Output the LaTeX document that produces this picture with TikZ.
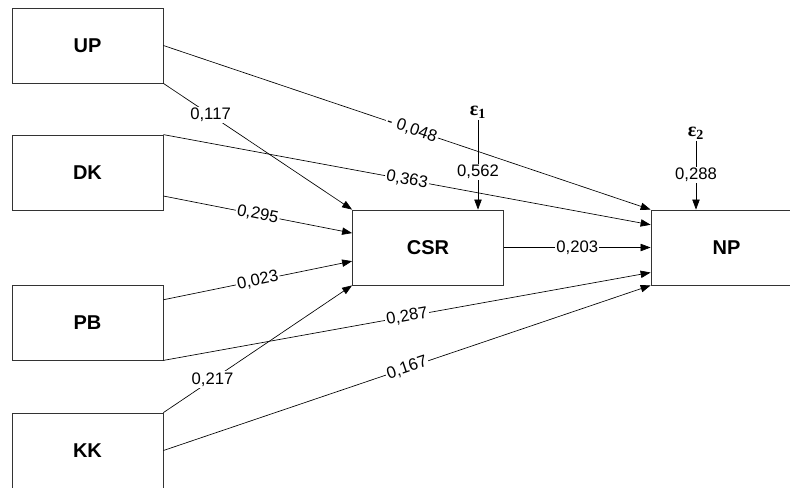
\documentclass[tikz,border=0pt]{standalone}
\usepackage{fontspec}
\setmainfont{Liberation Sans}
\newfontfamily\epsfont{Liberation Serif}
\usetikzlibrary{arrows.meta,calc,positioning}

\begin{document}
\begin{tikzpicture}[
        x=0.75pt, y=-0.75pt,
        node distance=223.9pt,
        box/.style={rectangle, minimum width=113.25pt, minimum height=56.25pt, draw=black!80, line width=0.6pt, font=\fontsize{15}{17}\selectfont\bfseries},
        arrow/.style={line width=0.5pt, -{Triangle[length=7.5pt,width=5.5pt]}},
        coef/.style={fill=white, inner sep=1pt, font=\fontsize{12.5}{14}\selectfont},
        errterm/.style={inner sep=1pt, font=\epsfont\fontsize{15}{16}\selectfont\bfseries}
    ]
        \useasboundingbox (0,0) rectangle (790,487);

        % Exogenous
        \node (up) [box] at (87.5,45.5) {UP};
        \node (dk) [box] at (87.5,172.5) {DK};
        \node (pb) [box] at (87.5,322.5) {PB};
        \node (kk) [box] at (87.5,450.5) {KK};

        % Endogenous
        \node (csr) [box] at (428,247.5) {CSR};
        \node (np) [box, right of=csr] {NP};

        % Errors
        \node (eps1) [errterm] at (478,112) {ε\textsubscript{1}};
        \node (eps2) [errterm] at (696,133) {ε\textsubscript{2}};

        % Paths to CSR
        \draw[arrow] (up.south east) -- node[coef, pos=0.25] {0,117} (csr.north west);
        \draw[arrow] ($(dk.north east)!0.81!(dk.south east)$) -- node[coef, sloped] {0,295} ($(csr.north west)!0.31!(csr.south west)$);
        \draw[arrow] ($(pb.north east)!0.2!(pb.south east)$) -- node[coef, sloped] {0,023} ($(csr.north west)!0.68!(csr.south west)$);
        \draw[arrow] (kk.north east) -- node[coef, pos=0.26] {0,217} (csr.south west);

        % Paths to NP
        \draw[arrow] (up.east) -- node[coef, sloped, pos=0.51] {- 0,048} (np.north west);
        \draw[arrow] (dk.north east) -- node[coef, sloped] {0,363} ($(np.north west)!0.2!(np.south west)$);
        \draw[arrow] (csr) -- node[coef] {0,203} (np);
        \draw[arrow] (pb.south east) -- node[coef, sloped] {0,287} ($(np.north west)!0.83!(np.south west)$);
        \draw[arrow] (kk.east) -- node[coef, sloped] {0,167} (np.south west);

        % Error terms
        \draw[arrow] (eps1.south) -- node[coef, pos=0.58] {0,562} (eps1.south |- csr.north);
        \draw[arrow] (eps2.south) -- node[coef] {0,288} (eps2.south |- np.north);
    \end{tikzpicture}
\end{document}
